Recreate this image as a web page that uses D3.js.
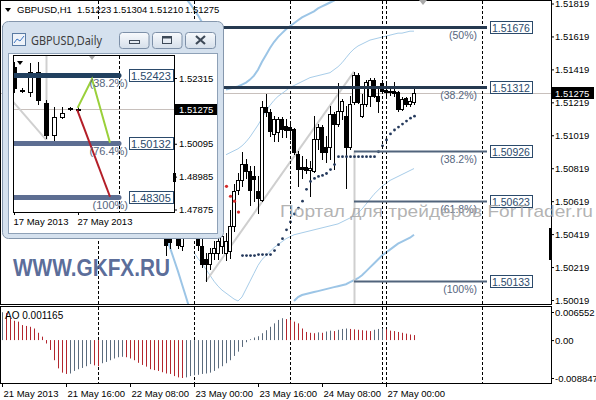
<!DOCTYPE html>
<html>
<head>
<meta charset="utf-8">
<script src="https://cdn.jsdelivr.net/npm/d3@7"></script>
<style>
body{margin:0;background:#fff;}
svg{display:block;font-family:"Liberation Sans",Arial,sans-serif;}
</style>
</head>
<body>
<div id="chart"></div>
<script>
// H1 candles, bar index = hours counted from 21 May 00:00 (bars before 41 sit behind the daily window)
var candleStart = 41;
var opens = [1.50487,1.50409,1.50427,1.50457,1.50349,1.50457,1.50547,1.50505,1.50445,1.50349,
  1.50265,1.50235,1.50307,1.50307,1.50349,1.50307,1.50319,1.50469,1.50685,1.50745,
  1.50847,1.50805,1.50769,1.50679,1.50625,1.51189,1.51159,1.51027,1.51039,1.51117,
  1.51075,1.51069,1.51057,1.50907,1.50829,1.50829,1.50811,1.50805,1.50997,1.51069,
  1.50949,1.50949,1.51147,1.51087,1.51165,1.51135,1.50949,1.51219,1.51387,1.51135,
  1.51207,1.51255,1.51357,1.51255,1.51339,1.51291,1.51285,1.51285,1.51279,1.51177,
  1.51243,1.51207,1.51223];
var highs = [1.50547,1.50487,1.50547,1.50487,1.50487,1.50607,1.50607,1.50547,1.50487,1.50397,
  1.50307,1.50337,1.50379,1.50415,1.50439,1.50427,1.50565,1.50721,1.50787,1.50919,
  1.50877,1.50835,1.50835,1.50769,1.51225,1.51267,1.51177,1.51135,1.51129,1.51129,
  1.51117,1.51087,1.51063,1.50925,1.50895,1.50877,1.50865,1.51135,1.51087,1.51081,
  1.51015,1.51195,1.51159,1.51339,1.51237,1.51195,1.51255,1.51405,1.51399,1.51267,
  1.51357,1.51369,1.51369,1.51315,1.51357,1.51339,1.51309,1.51345,1.51285,1.51249,
  1.51249,1.51249,1.51304];
var lows = [1.50295,1.50337,1.50409,1.50337,1.50325,1.50427,1.50427,1.50409,1.50325,1.50217,
  1.50133,1.50205,1.50265,1.50265,1.50307,1.50259,1.50277,1.50439,1.50661,1.50709,
  1.50757,1.50595,1.50619,1.50547,1.50619,1.51135,1.51015,1.50985,1.50985,1.51009,
  1.51009,1.50997,1.50907,1.50709,1.50757,1.50787,1.50649,1.50799,1.50937,1.50877,
  1.50859,1.50877,1.50817,1.51075,1.51117,1.50697,1.50937,1.51207,1.51213,1.51129,
  1.51195,1.51195,1.51249,1.51159,1.51279,1.51255,1.51261,1.51255,1.51165,1.51171,
  1.51195,1.51195,1.51210];
var closes = [1.50355,1.50373,1.50487,1.50355,1.50427,1.50547,1.50487,1.50445,1.50355,1.50235,
  1.50235,1.50307,1.50337,1.50379,1.50409,1.50379,1.50469,1.50679,1.50745,1.50847,
  1.50805,1.50685,1.50751,1.50637,1.51189,1.51159,1.51045,1.51117,1.51117,1.51057,
  1.51051,1.51051,1.50919,1.50817,1.50817,1.50811,1.50823,1.50997,1.51069,1.50919,
  1.50919,1.51147,1.51087,1.51165,1.51225,1.50949,1.51207,1.51387,1.51219,1.51207,
  1.51345,1.51357,1.51255,1.51225,1.51285,1.51279,1.51279,1.51273,1.51177,1.51237,
  1.51207,1.51225,1.51275];

var timeIdx = [0,16,32,48,64,80,96];
var timeLabels = ["21 May 2013","21 May 16:00","22 May 08:00","23 May 00:00","23 May 16:00","24 May 08:00","27 May 00:00"];
var sepIdx = [24,48,72,95,96,120];
var priceTicks = [1.51819,1.51619,1.51419,1.51219,1.51019,1.50819,1.50619,1.50419,1.50219,1.50019];

// parabolic SAR dots
var sarStart = 60;
var sar = [1.50289,1.50289,1.50289,1.50289,1.50295,1.50295,1.50295,1.50295,1.50319,1.50355,
  1.50391,1.50445,1.50493,1.50541,1.50577,1.50619,1.50691,1.50739,1.50757,1.50769,
  1.50775,1.50787,1.50811,1.50841,1.50889,1.50889,1.50889,1.50889,1.50889,1.50889,
  1.50889,1.50889,1.50889,1.50889,1.50919,1.50955,1.50991,1.51027,1.51051,1.51069,
  1.51087,1.51105,1.51123,1.51135];
var redDotStart = 56;
var redDots = [1.50709,1.50649,1.50619,1.50553];

// bollinger bands (outer thick, inner thin)
var upperOuterAStart = 46;
var upperOuterA = [1.51849,1.51819,1.51783,1.51747,1.51705];
var upperOuterBStart = 56;
var upperOuterB = [1.51297,1.51303,1.51309,1.51315,1.51327,1.51339,1.51357,1.51381,1.51417,1.51465,
  1.51507,1.51549,1.51585,1.51615,1.51639,1.51663,1.51681,1.51699,1.51717,1.51735,
  1.51747,1.51759,1.51771,1.51789,1.51801,1.51813,1.51825,1.51837,1.51849,1.51861];
var upperInnerStart = 56;
var upperInner = [1.50901,1.50913,1.50925,1.50937,1.50955,1.50979,1.51009,1.51045,1.51081,1.51123,
  1.51165,1.51201,1.51231,1.51255,1.51273,1.51291,1.51309,1.51321,1.51333,1.51345,
  1.51357,1.51369,1.51375,1.51381,1.51387,1.51393,1.51399,1.51417,1.51435,1.51459,
  1.51489,1.51519,1.51543,1.51561,1.51573,1.51585,1.51597,1.51603,1.51609,1.51615,
  1.51621,1.51627,1.51633,1.51639,1.51639,1.51645,1.51651,1.51651];
var lowerInnerStart = 48;
var lowerInner = [1.50307,1.50271,1.50241,1.50205,1.50169,1.50133,1.50103,1.50079,1.50061,1.50043,
  1.50025,1.50013,1.50037,1.50085,1.50133,1.50181,1.50229,1.50265,1.50289,1.50313,
  1.50337,1.50355,1.50373,1.50391,1.50403,1.50415,1.50421,1.50427,1.50433,1.50439,
  1.50445,1.50451,1.50457,1.50463,1.50469,1.50475,1.50481,1.50493,1.50505,1.50517,
  1.50529,1.50547,1.50571,1.50601,1.50631,1.50661,1.50685,1.50709,1.50727,1.50745,
  1.50757,1.50769,1.50781,1.50793,1.50805,1.50817];
var lowerOuterAStart = 40;
var lowerOuterA = [1.50469,1.50409,1.50337,1.50265,1.50193,1.50115,1.50037,1.49959];
var lowerOuterBStart = 73;
var lowerOuterB = [1.50013,1.50037,1.50049,1.50055,1.50061,1.50067,1.50073,1.50079,1.50085,1.50091,
  1.50097,1.50103,1.50109,1.50115,1.50127,1.50139,1.50151,1.50169,1.50193,1.50217,
  1.50241,1.50265,1.50289,1.50307,1.50325,1.50343,1.50361,1.50373,1.50385,1.50397,1.50415];

// awesome oscillator, one value per bar from 0
var ao = [0.0065,0.0063,0.0051,0.0045,0.0043,0.0035,0.0033,0.0031,0.0027,0.0017,
  0.0008,-0.0008,-0.0023,-0.0047,-0.0066,-0.0076,-0.0079,-0.0078,-0.0072,-0.0068,
  -0.0065,-0.0061,-0.0056,-0.0059,-0.0061,-0.0054,-0.0051,-0.0047,-0.0043,-0.0040,
  -0.0039,-0.0040,-0.0043,-0.0047,-0.0053,-0.0058,-0.0062,-0.0068,-0.0070,-0.0072,
  -0.0075,-0.0078,-0.0079,-0.0084,-0.0087,-0.00885,-0.0087,-0.0084,-0.0082,-0.0081,
  -0.0079,-0.0078,-0.0076,-0.0072,-0.0066,-0.0061,-0.0054,-0.0047,-0.0037,-0.0027,
  -0.0016,-0.0005,0.0002,0.0006,0.0009,0.0016,0.0023,0.0031,0.0039,0.0047,
  0.0051,0.0049,0.0047,0.0043,0.0039,0.0027,0.0019,0.0017,0.0016,0.0018,
  0.0017,0.0020,0.0022,0.0021,0.0024,0.0026,0.0027,0.0026,0.0025,0.0024,
  0.0023,0.0022,0.0021,0.0024,0.0026,0.0027,0.0025,0.0022,0.0021,0.0019,
  0.0017,0.0015,0.0013,0.001165];
var aoTicks = [0.006552,0,-0.008847];
var aoTickLabels = ["0.006552","0.00","-0.008847"];

// fibonacci objects on H1
var fibLevels = [1.51676,1.51312,1.50926,1.50623,1.50133];
var fibLabels = ["(50%)","(38.2%)","(38.2%)","(61.8%)","(100%)"];
var fibFrom = [0,0,88,88,88];
var fibTo = 121.25;
var trendLine = [[51,1.50133],[88,1.51405]];

// daily window
var dayLabels = ["17 May","19 May","20 May","21 May","22 May","23 May","24 May","26 May","27 May"];
var dOpen = [1.52685,1.51895,1.51845,1.52517,1.51475,1.50400,1.51005,1.51307,1.51257];
var dHigh = [1.52853,1.51979,1.52819,1.52853,1.51576,1.51341,1.51341,1.51324,1.51374];
var dLow = [1.51845,1.51845,1.51710,1.51441,1.50300,1.50133,1.50971,1.51240,1.51139];
var dClose = [1.51979,1.51912,1.52517,1.51576,1.50400,1.51005,1.51139,1.51257,1.51275];
var dTicks = [1.52315,1.50095,1.48985,1.47875];
var dDateIdx = [0,8];
var dDateLabels = ["17 May 2013","27 May 2013"];
var dFibLevels = [1.52423,1.50132,1.48305];
var dFibLabels = ["(38.2%)","(76.4%)","(100%)"];
var dFibTo = 13.125;
var dGreen = [[7.95,1.51307],[9.75,1.52281],[12,1.50132]];
var dRed = [[7.9,1.51240],[12,1.48305]];
var dGrey = [[-0.1,1.51509],[4,1.50232]];

var fmt5 = d3.format(".5f");
var svg = d3.select("#chart").append("svg").attr("width",596).attr("height",400);
var defs = svg.append("defs");

var x = d3.scaleLinear().domain([0,137.25]).range([2,551]);
var y = d3.scaleLinear().domain([1.50019,1.51819]).range([300,3.5]);
var yAO = d3.scaleLinear().domain([-0.008847,0.006552]).range([378,312]);
function px(i){ return Math.round(x(i)); }

defs.append("clipPath").attr("id","mainClip").append("rect")
  .attr("x",1).attr("y",1).attr("width",550).attr("height",303);
var plot = svg.append("g").attr("clip-path","url(#mainClip)");

//period separators in both panels
[[1,304],[307,383]].forEach(function(r){
  svg.append("g").selectAll("line").data(sepIdx).enter().append("line")
    .attr("x1",function(d){ return px(d)+0.5; }).attr("x2",function(d){ return px(d)+0.5; })
    .attr("y1",r[0]).attr("y2",r[1])
    .attr("stroke","#000").attr("stroke-dasharray","3,2");
});

//bid line
var lastClose = closes[closes.length-1];
plot.append("line").attr("x1",1).attr("x2",551)
  .attr("y1",Math.round(y(lastClose))+0.5).attr("y2",Math.round(y(lastClose))+0.5)
  .attr("stroke","#c8c0bc");

//bands
function series(start,arr){ return arr.map(function(v,j){ return {i:start+j,v:v}; }); }
var bandLine = d3.line().x(function(d){ return x(d.i); }).y(function(d){ return y(d.v); });
[[upperOuterAStart,upperOuterA,2],[upperOuterBStart,upperOuterB,2],[lowerOuterAStart,lowerOuterA,2],
 [lowerOuterBStart,lowerOuterB,2],[upperInnerStart,upperInner,1],[lowerInnerStart,lowerInner,1]].forEach(function(b){
  plot.append("path").datum(series(b[0],b[1])).attr("d",bandLine)
    .attr("fill","none").attr("stroke",b[2]==2?"#9cc5e6":"#a8cde9").attr("stroke-width",b[2]);
});

//grey fib-expansion helpers
plot.append("line").attr("x1",px(88)+0.5).attr("x2",px(88)+0.5)
  .attr("y1",y(fibLevels[2])).attr("y2",304).attr("stroke","#cfcfcf").attr("stroke-width",2);
plot.append("path").datum(trendLine)
  .attr("d",d3.line().x(function(d){ return x(d[0]); }).y(function(d){ return y(d[1]); }))
  .attr("stroke","#cfcfcf").attr("stroke-width",2).attr("fill","none");

//candles
var bars = opens.map(function(o,j){ return {i:candleStart+j,o:o,h:highs[j],l:lows[j],c:closes[j]}; });
plot.append("g").selectAll("line").data(bars).enter().append("line")
  .attr("x1",function(d){ return px(d.i)+0.5; }).attr("x2",function(d){ return px(d.i)+0.5; })
  .attr("y1",function(d){ return Math.round(y(d.h)); }).attr("y2",function(d){ return Math.round(y(d.l))+1; })
  .attr("stroke","#000");
plot.append("g").selectAll("rect").data(bars).enter().append("rect")
  .attr("x",function(d){ return px(d.i)-1.5; }).attr("width",3)
  .attr("y",function(d){ return Math.round(y(Math.max(d.o,d.c)))+0.5; })
  .attr("height",function(d){ return Math.max(1,Math.round(y(Math.min(d.o,d.c)))-Math.round(y(Math.max(d.o,d.c)))); })
  .attr("fill",function(d){ return d.c>=d.o?"#fff":"#000"; })
  .attr("stroke","#000");

//SAR
plot.append("g").selectAll("circle").data(series(sarStart,sar)).enter().append("circle")
  .attr("cx",function(d){ return x(d.i)+0.5; }).attr("cy",function(d){ return y(d.v); })
  .attr("r",1.4).attr("fill","#24395c");
plot.append("g").selectAll("circle").data(series(redDotStart,redDots)).enter().append("circle")
  .attr("cx",function(d){ return x(d.i)+0.5; }).attr("cy",function(d){ return y(d.v); })
  .attr("r",1.6).attr("fill","#d42a2a");

//fib levels with labels
var fibG = svg.append("g");
fibLevels.forEach(function(lvl,k){
  var ly = Math.round(y(lvl))+0.5;
  fibG.append("line").attr("x1",x(fibFrom[k])).attr("x2",x(fibTo)).attr("y1",ly).attr("y2",ly)
    .attr("stroke",k<2?"#263a50":"#51647c").attr("stroke-width",k<2?3:2);
  fibG.append("text").attr("x",x(fibTo)-10).attr("y",ly+11).attr("text-anchor","end")
    .attr("font-size",10.5).attr("fill","#56667e").text(fibLabels[k]);
  var t = fibG.append("text").attr("x",x(fibTo)+5).attr("y",ly+4)
    .attr("font-size",10.5).attr("fill","#2b4a6b").text(fmt5(lvl));
  var w = t.node().getComputedTextLength();
  fibG.insert("rect",function(){ return t.node(); })
    .attr("x",x(fibTo)+3.5).attr("y",ly-6).attr("width",Math.ceil(w)+4).attr("height",12)
    .attr("fill","#fff").attr("stroke","#2b4a6b");
});

//frames
svg.append("rect").attr("x",0.5).attr("y",0.5).attr("width",551).attr("height",304)
  .attr("fill","none").attr("stroke","#000");
svg.append("rect").attr("x",0.5).attr("y",306.5).attr("width",551).attr("height",77)
  .attr("fill","none").attr("stroke","#000");

//price axis
var yAxis = svg.append("g").attr("transform","translate(551,0)")
  .call(d3.axisRight(y).tickValues(priceTicks).tickSize(3).tickFormat(fmt5));
yAxis.select(".domain").remove();
yAxis.selectAll("text").attr("x",4).attr("font-size",9.5).attr("font-family","Liberation Sans, Arial");
svg.append("rect").attr("x",551).attr("y",Math.round(y(lastClose))-6).attr("width",43).attr("height",12).attr("fill","#000");
svg.append("text").attr("x",555).attr("y",Math.round(y(lastClose))+3.5).attr("font-size",9.5)
  .attr("fill","#fff").text(fmt5(lastClose));
svg.append("rect").attr("x",549).attr("y",228).attr("width",3).attr("height",32).attr("fill","#000");
svg.append("path").attr("d","M419,0L427,0L423,5Z").attr("fill","#a8a8a8");

//AO panel
var aoBars = ao.map(function(v,i){ return {i:i,v:v,up:i==0||v>ao[i-1]}; });
svg.append("g").selectAll("line").data(aoBars).enter().append("line")
  .attr("x1",function(d){ return px(d.i)+0.5; }).attr("x2",function(d){ return px(d.i)+0.5; })
  .attr("y1",yAO(0)).attr("y2",function(d){ return yAO(d.v); })
  .attr("stroke",function(d){ return d.up?"#5b6b7d":"#b3262e"; });
var aoAxis = svg.append("g").attr("transform","translate(551,0)")
  .call(d3.axisRight(yAO).tickValues(aoTicks).tickSize(3).tickFormat(function(d,i){ return aoTickLabels[i]; }));
aoAxis.select(".domain").remove();
aoAxis.selectAll("text").attr("x",4).attr("font-size",9.5).attr("font-family","Liberation Sans, Arial");
svg.append("text").attr("x",5).attr("y",319).attr("font-size",10)
  .text("AO " + ao[ao.length-1]);

//time axis
var xAxis = svg.append("g").attr("transform","translate(0,383)")
  .call(d3.axisBottom(x).tickValues(timeIdx).tickSize(4).tickFormat(function(d,i){ return timeLabels[i]; }));
xAxis.select(".domain").remove();
xAxis.selectAll("text").attr("text-anchor","start").attr("x",1).attr("font-size",9.5)
  .attr("font-family","Liberation Sans, Arial");

//header
var last = bars[bars.length-1];
svg.append("path").attr("d","M5,8L11,8L8,12Z").attr("fill","#000");
var hx = [17,77,113,149,185];
["GBPUSD,H1",fmt5(last.o),fmt5(last.h),fmt5(last.l),fmt5(last.c)].forEach(function(s,k){
  svg.append("text").attr("x",hx[k]).attr("y",13).attr("font-size",9.5).text(s);
});

//watermarks
svg.append("text").attr("x",13).attr("y",276).attr("font-size",24).attr("font-weight","bold")
  .attr("textLength",157).attr("lengthAdjust","spacingAndGlyphs")
  .attr("fill","#4c6090").attr("fill-opacity",0.92).text("WWW.GKFX.RU");
svg.append("text").attr("x",280).attr("y",217).attr("font-size",17)
  .attr("textLength",313).attr("lengthAdjust","spacingAndGlyphs")
  .attr("fill","#a6a6a6").attr("fill-opacity",0.85).text("Портал для трейдеров ForTrader.ru");

// ---- GBPUSD,Daily window ----
var grad = defs.append("linearGradient").attr("id","btn").attr("x1",0).attr("y1",0).attr("x2",0).attr("y2",1);
grad.append("stop").attr("offset","0%").attr("stop-color","#f8fafd");
grad.append("stop").attr("offset","100%").attr("stop-color","#d5dfea");
var win = svg.append("g");
win.append("rect").attr("x",2.5).attr("y",21.5).attr("width",221).attr("height",217).attr("rx",6)
  .attr("fill","#d5e1ee").attr("stroke","#8597ad");
win.append("rect").attr("x",8.5).attr("y",53.5).attr("width",209).attr("height",180)
  .attr("fill","#fff").attr("stroke","#8ea1b7");
//title
win.append("rect").attr("x",12.5).attr("y",33.5).attr("width",13).attr("height",12)
  .attr("fill","#eef3f9").attr("stroke","#5a7ba3");
win.append("path").attr("d","M14,43L17,39L20,41L24,36").attr("fill","none").attr("stroke","#3d77c4");
win.append("text").attr("x",31).attr("y",45).attr("font-size",12.5).attr("font-family","Noto Sans, sans-serif")
  .attr("fill","#3c3c3c").attr("textLength",71).attr("lengthAdjust","spacingAndGlyphs").text("GBPUSD,Daily");
[[119.5,29.5],[152.5,29.5],[185.5,30]].forEach(function(b,k){
  win.append("rect").attr("x",b[0]).attr("y",32.5).attr("width",b[1]).attr("height",16).attr("rx",3)
    .attr("fill","url(#btn)").attr("stroke","#7d90a8");
});
win.append("rect").attr("x",129.5).attr("y",40.5).attr("width",10).attr("height",3).attr("fill","none").attr("stroke","#3e4a58");
win.append("rect").attr("x",162.5).attr("y",36.5).attr("width",9).attr("height",7).attr("fill","none").attr("stroke","#3e4a58");
win.append("rect").attr("x",163).attr("y",37).attr("width",8).attr("height",1.5).attr("fill","#3e4a58");
win.append("path").attr("d","M196,36L205,44M205,36L196,44").attr("stroke","#3e4a58").attr("stroke-width",2.2);

var ix = d3.scaleLinear().domain([0,1]).range([14,22]);
var iy = d3.scaleLinear().domain([1.47875,1.52315]).range([209.5,78]);
defs.append("clipPath").attr("id","dayClip").append("rect")
  .attr("x",14).attr("y",56).attr("width",160).attr("height",156);
var dp = win.append("g").attr("clip-path","url(#dayClip)");
var ptLine = d3.line().x(function(d){ return ix(d[0]); }).y(function(d){ return iy(d[1]); });

dp.append("line").attr("x1",14).attr("x2",174)
  .attr("y1",Math.round(iy(dClose[8]))+0.5).attr("y2",Math.round(iy(dClose[8]))+0.5).attr("stroke","#c8c0bc");
dp.append("line").attr("x1",Math.round(ix(4))+0.5).attr("x2",Math.round(ix(4))+0.5)
  .attr("y1",56).attr("y2",iy(dGrey[1][1])).attr("stroke","#d0d0d0").attr("stroke-width",2);
dp.append("path").datum(dGrey).attr("d",ptLine).attr("stroke","#d0d0d0").attr("stroke-width",2).attr("fill","none");
dp.append("line").attr("x1",Math.round(ix(dFibTo))+0.5).attr("x2",Math.round(ix(dFibTo))+0.5)
  .attr("y1",56).attr("y2",212).attr("stroke","#000").attr("stroke-dasharray","3,2");

var dBars = dOpen.map(function(o,k){ return {k:k,o:o,h:dHigh[k],l:dLow[k],c:dClose[k]}; });
dp.append("g").selectAll("line").data(dBars).enter().append("line")
  .attr("x1",function(d){ return Math.round(ix(d.k))+0.5; }).attr("x2",function(d){ return Math.round(ix(d.k))+0.5; })
  .attr("y1",function(d){ return Math.round(iy(d.h)); }).attr("y2",function(d){ return Math.round(iy(d.l))+1; })
  .attr("stroke","#000");
dp.append("g").selectAll("rect").data(dBars).enter().append("rect")
  .attr("x",function(d){ return Math.round(ix(d.k))-1.5; }).attr("width",4)
  .attr("y",function(d){ return Math.round(iy(Math.max(d.o,d.c)))+0.5; })
  .attr("height",function(d){ return Math.max(1,Math.round(iy(Math.min(d.o,d.c)))-Math.round(iy(Math.max(d.o,d.c)))); })
  .attr("fill",function(d){ return d.c>=d.o?"#fff":"#000"; }).attr("stroke","#000");

dFibLevels.forEach(function(lvl,k){
  var ly = Math.round(iy(lvl))+0.5;
  dp.append("line").attr("x1",0).attr("x2",ix(dFibTo)).attr("y1",ly).attr("y2",ly)
    .attr("stroke",k==0?"#21405f":"#5d6e92").attr("stroke-width",5).attr("stroke-linecap","round");
});
dp.append("path").datum(dGreen).attr("d",ptLine).attr("fill","none").attr("stroke","#9ad03a").attr("stroke-width",2);
dp.append("path").datum(dRed).attr("d",ptLine).attr("fill","none").attr("stroke","#b41e28").attr("stroke-width",2);
dFibLevels.forEach(function(lvl,k){
  var ly = Math.round(iy(lvl))+0.5;
  win.append("text").attr("x",128).attr("y",ly+11).attr("text-anchor","end")
    .attr("font-size",11).attr("fill","#56667e").text(dFibLabels[k]);
  var t = win.append("text").attr("x",131).attr("y",ly+4).attr("font-size",11).attr("fill","#2b4a6b").text(fmt5(lvl));
  var w = t.node().getComputedTextLength();
  win.insert("rect",function(){ return t.node(); })
    .attr("x",129.5).attr("y",ly-6).attr("width",Math.ceil(w)+4).attr("height",12)
    .attr("fill","#fff").attr("stroke","#2b4a6b");
});
win.append("rect").attr("x",13.5).attr("y",55.5).attr("width",161).attr("height",157)
  .attr("fill","none").attr("stroke","#000");
win.append("path").attr("d","M17,61L23,61L20,65Z").attr("fill","#000");
win.append("path").attr("d","M89,56L95,56L92,60Z").attr("fill","#a8a8a8");
win.append("rect").attr("x",173).attr("y",173).attr("width",3).attr("height",9).attr("fill","#000");

var dAxis = win.append("g").attr("transform","translate(174,0)")
  .call(d3.axisRight(iy).tickValues(dTicks).tickSize(3).tickFormat(fmt5));
dAxis.select(".domain").remove();
dAxis.selectAll("text").attr("x",5).attr("font-size",9.5).attr("font-family","Liberation Sans, Arial");
win.append("rect").attr("x",175).attr("y",Math.round(iy(dClose[8]))-5).attr("width",42).attr("height",11).attr("fill","#000");
win.append("text").attr("x",179).attr("y",Math.round(iy(dClose[8]))+4).attr("font-size",9.5)
  .attr("fill","#fff").text(fmt5(dClose[8]));
var dxAxis = win.append("g").attr("transform","translate(0,212)")
  .call(d3.axisBottom(ix).tickValues(dDateIdx).tickSize(3).tickFormat(function(d,i){ return dDateLabels[i]; }));
dxAxis.select(".domain").remove();
dxAxis.selectAll("text").attr("text-anchor","start").attr("x",-1).attr("font-size",9.5)
  .attr("font-family","Liberation Sans, Arial");
</script>
</body>
</html>
